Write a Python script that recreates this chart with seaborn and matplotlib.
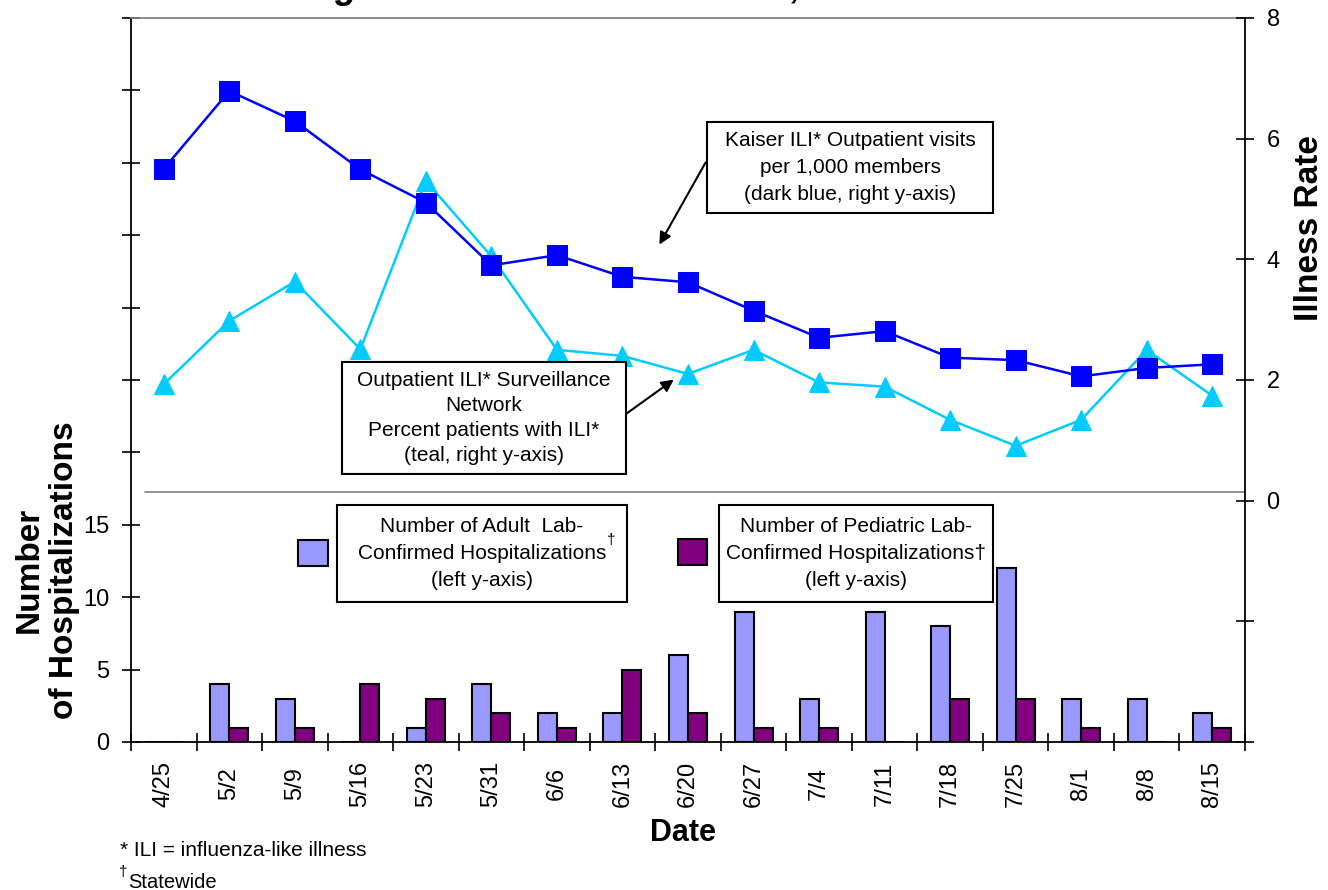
import numpy as np
import pandas as pd
import seaborn as sns
import matplotlib.pyplot as plt
from matplotlib.patches import Rectangle
from matplotlib.lines import Line2D

# data
dates = ['4/25', '5/2', '5/9', '5/16', '5/23', '5/31', '6/6', '6/13', '6/20',
         '6/27', '7/4', '7/11', '7/18', '7/25', '8/1', '8/8', '8/15']
adult = [0, 4, 3, 0, 1, 4, 2, 2, 6, 9, 3, 9, 8, 12, 3, 3, 2]
pediatric = [0, 1, 1, 4, 3, 2, 1, 5, 2, 1, 1, 0, 3, 3, 1, 0, 1]
kaiser = [5.50, 6.79, 6.29, 5.49, 4.94, 3.90, 4.07, 3.71, 3.62,
          3.15, 2.70, 2.81, 2.37, 2.33, 2.06, 2.20, 2.26]
ili_net = [1.93, 2.98, 3.63, 2.51, 5.30, 4.05, 2.50, 2.40, 2.10,
           2.50, 1.96, 1.89, 1.34, 0.91, 1.34, 2.50, 1.74]
left_ticks = list(range(0, 55, 5))
left_labels = ['0', '5', '10', '15'] + [''] * 7
right_ticks = list(range(-4, 10, 2))
right_labels = ['', '', '0', '2', '4', '6', '8']

sns.set_theme(style='ticks')
plt.rcParams['font.family'] = ['Liberation Sans', 'DejaVu Sans']
plt.rcParams['text.color'] = 'black'
plt.rcParams['axes.labelcolor'] = 'black'
plt.rcParams['xtick.color'] = 'black'
plt.rcParams['ytick.color'] = 'black'

W, H = 1328, 890
fig = plt.figure(figsize=(W / 100, H / 100), dpi=100)
ax = fig.add_axes([131 / W, 1 - 742 / H, (1245 - 131) / W, (742 - 18) / H])


def P(x, y):
    # pixel position (from top-left) -> figure fraction
    return (x / W, 1 - y / H)


# bars (left axis)
bars = pd.DataFrame({'date': dates * 2,
                     'count': adult + pediatric,
                     'kind': ['adult'] * len(dates) + ['pediatric'] * len(dates)})
sns.barplot(data=bars, x='date', y='count', hue='kind',
            palette=['#9999FF', '#800080'], saturation=1, width=0.58, gap=0,
            edgecolor='black', linewidth=1.5, errorbar=None,
            legend=False, ax=ax, zorder=2)
ax.set_xlim(-0.5, len(dates) - 0.5)
ax.set_ylim(0, 50)
ax.set_yticks(left_ticks, left_labels)

# lines (right axis)
ax2 = ax.twinx()
xpos = np.arange(len(dates))
sns.lineplot(x=xpos, y=ili_net, ax=ax2, color='#00CCFF', marker='^',
             markersize=15, markeredgecolor='#00CCFF', linewidth=1.8)
sns.lineplot(x=xpos, y=kaiser, ax=ax2, color='#0000FF', marker='s',
             markersize=14.5, markeredgecolor='#0000FF', linewidth=1.8)
ax2.set_ylim(-4, 8)
ax2.set_yticks(right_ticks, right_labels)
ax2.set_xlim(-0.5, len(dates) - 0.5)

# spines / ticks
for s in ['top', 'left', 'bottom']:
    ax2.spines[s].set_visible(False)
ax.spines['right'].set_visible(False)
ax.spines['top'].set_color('#808080')
for sp in [ax.spines['left'], ax.spines['bottom'], ax2.spines['right']]:
    sp.set_color('black')
    sp.set_linewidth(1.3)

ax.tick_params(axis='y', direction='inout', length=13, width=1.2,
               labelsize=17, pad=9)
ax2.tick_params(axis='y', direction='inout', length=13, width=1.2,
                labelsize=17, pad=9)
ax.set_xticks(xpos, dates)
ax.tick_params(axis='x', which='major', length=0, labelsize=17,
               labelrotation=90, pad=30)
ax.set_xticks(np.arange(-0.5, len(dates), 1), minor=True)
ax.tick_params(axis='x', which='minor', direction='inout', length=13,
               width=1.2)
for lab in ax.get_xticklabels():
    lab.set_va('center')

ax.set_xlabel('Date', fontsize=22, fontweight='bold', va='center')
ax.xaxis.set_label_coords(0.4955, -0.1257)
ax.set_ylabel('Number\nof Hospitalizations', fontsize=24, fontweight='bold',
              va='center', linespacing=1.2)
ax.yaxis.set_label_coords(-0.0755, 0.2376)
ax2.set_ylabel('Illness Rate', fontsize=24, fontweight='bold', va='center')
ax2.yaxis.set_label_coords(1.0583, 0.71)

# separator between the two panels
ax.add_line(Line2D([0.0126, 1], [0.3453, 0.3453], transform=ax.transAxes,
                   color='#808080', lw=1.2))


def box(x0, y0, x1, y1, text, ls):
    fig.add_artist(Rectangle(P(x0, y1), (x1 - x0) / W, (y1 - y0) / H,
                             transform=fig.transFigure, facecolor='white',
                             edgecolor='black', lw=1.5, zorder=5))
    cx, cy = P((x0 + x1) / 2, (y0 + y1) / 2)
    fig.text(cx, cy, text, ha='center', va='center', fontsize=15,
             linespacing=ls, zorder=6)


def swatch(x0, y0, x1, y1, color):
    fig.add_artist(Rectangle(P(x0, y1), (x1 - x0) / W, (y1 - y0) / H,
                             transform=fig.transFigure, facecolor=color,
                             edgecolor='black', lw=1.5, zorder=5))


box(707, 122, 993, 213,
    'Kaiser ILI* Outpatient visits\nper 1,000 members\n(dark blue, right y-axis)', 1.55)
box(342, 362, 626, 474,
    'Outpatient ILI* Surveillance\nNetwork\nPercent patients with ILI*\n(teal, right y-axis)', 1.4)
box(337, 505, 627, 602,
    'Number of Adult  Lab-\nConfirmed Hospitalizations\n(left y-axis)', 1.55)
fig.text(*P(607, 540), '\u2020', fontsize=11, va='center', zorder=6)
box(719, 505, 993, 602,
    'Number of Pediatric Lab-\nConfirmed Hospitalizations\u2020\n(left y-axis)', 1.5)
swatch(298, 540, 328, 566, '#9999FF')
swatch(678, 539, 707, 565, '#800080')

arrow = dict(arrowstyle='-|>', color='black', lw=1.5, mutation_scale=18)
ax2.annotate('', xy=P(658, 247), xytext=P(707, 160),
             xycoords='figure fraction', textcoords='figure fraction',
             arrowprops=arrow)
ax2.annotate('', xy=P(676, 378), xytext=P(612, 424),
             xycoords='figure fraction', textcoords='figure fraction',
             arrowprops=arrow)

# title (cut off at the top edge, as in the source) and footnotes
fig.text(*P(660, -2), 'Oregon Influenza Surveillance, Summer 2009',
         ha='center', va='baseline', fontsize=26, fontweight='bold',
         fontstyle='italic')
fig.text(*P(120, 851), '* ILI = influenza-like illness', fontsize=15,
         va='center')
fig.text(*P(119, 872), '\u2020', fontsize=11, va='center')
fig.text(*P(128, 882), 'Statewide', fontsize=14.5, va='center')

fig.savefig('out.png', dpi=100)
